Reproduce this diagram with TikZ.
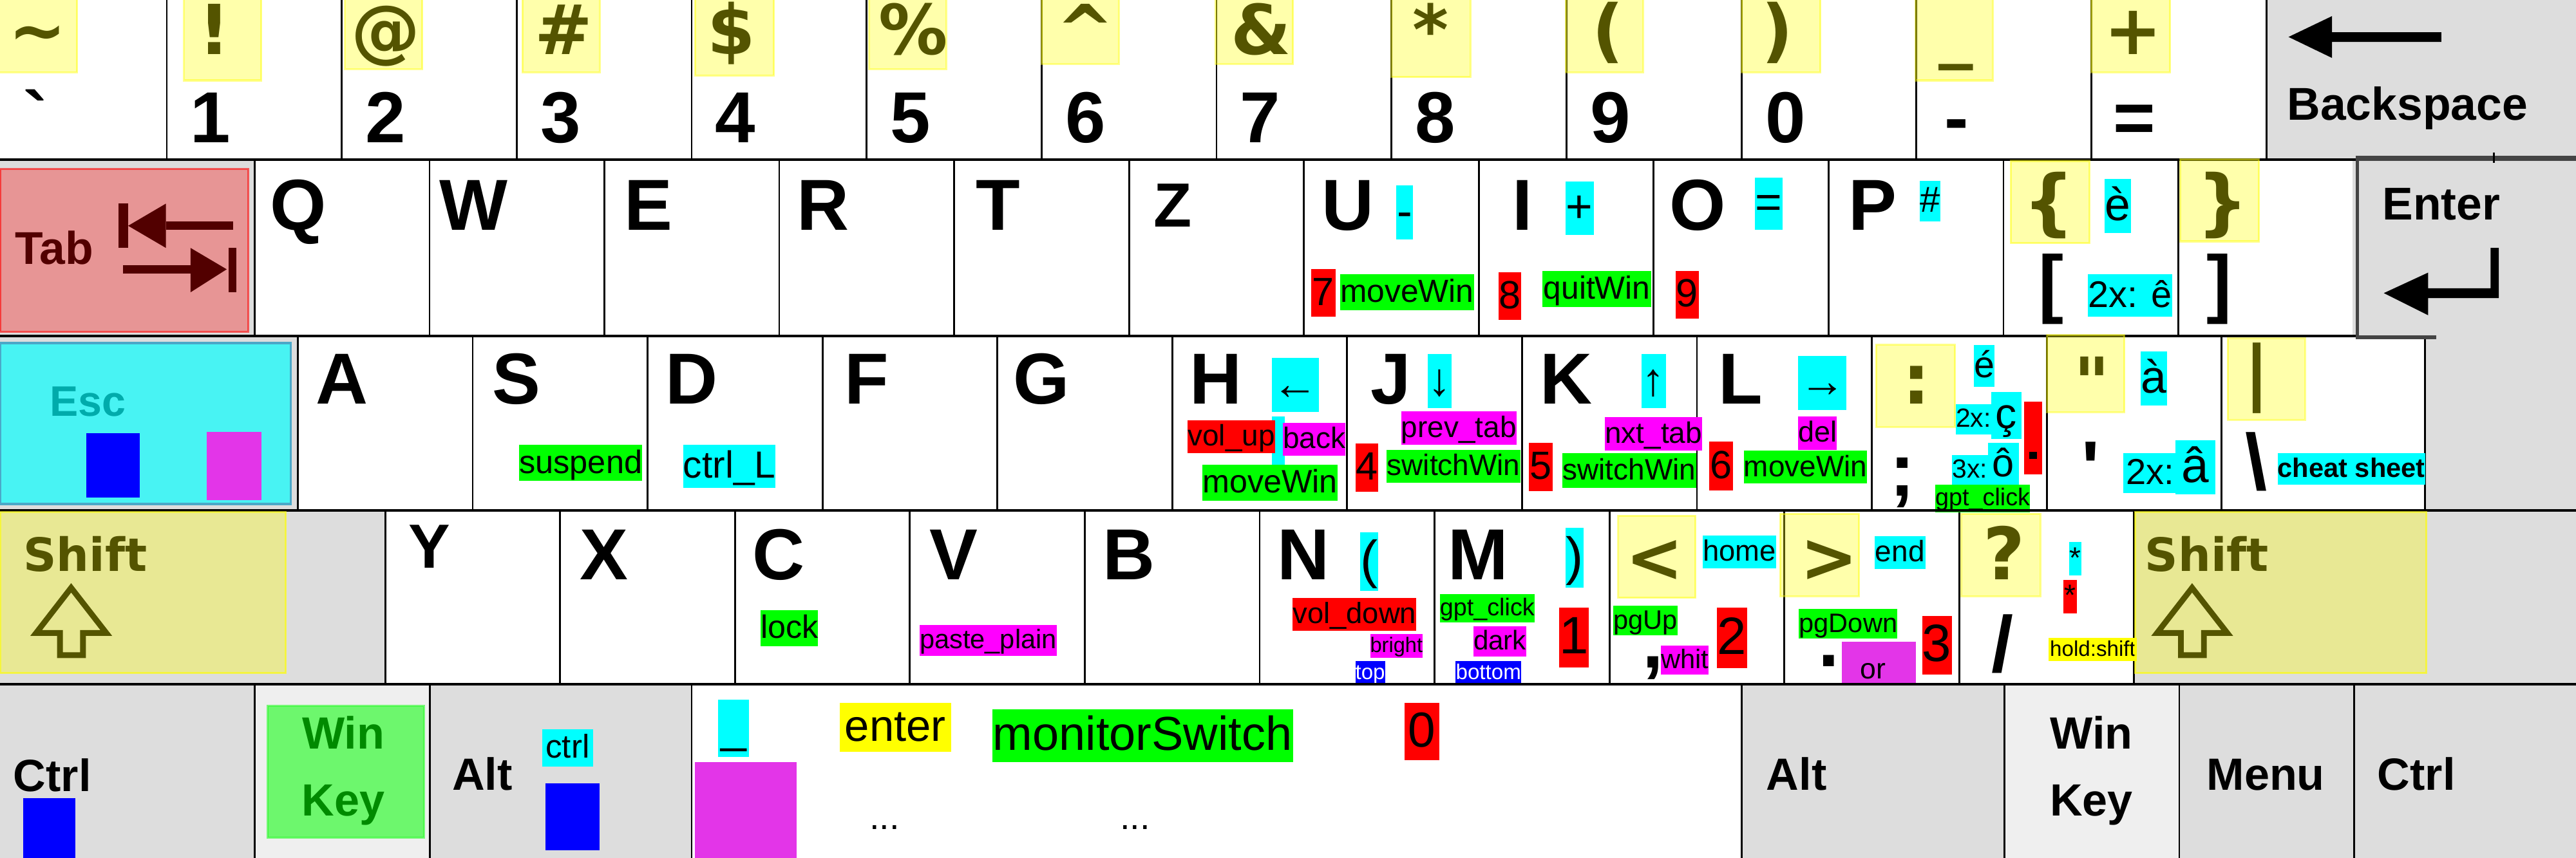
\documentclass[tikz,border=0pt]{standalone}
\usepackage{fontspec}
\setmainfont{Liberation Sans}
\newfontfamily\dvs{DejaVu Sans}
\definecolor{kgrey}{HTML}{DDDDDD}
\definecolor{klight}{HTML}{EFEFEF}
\definecolor{mag2}{HTML}{E335E8}
\definecolor{edgegrey}{HTML}{444444}
\definecolor{escedge}{HTML}{4AA8C8}
\definecolor{cy}{RGB}{0,255,255}
\definecolor{mg}{RGB}{255,0,255}
\definecolor{yl}{RGB}{255,255,0}
\definecolor{gr}{RGB}{0,255,0}
\definecolor{rd}{RGB}{255,0,0}
\definecolor{bl}{RGB}{0,0,255}
\newcommand\sst{\vrule width0pt height.86em depth.24em\relax}
\newcommand\fsz[1]{\fontsize{#1}{#1}\selectfont}
\tikzset{
  keyl/.style={anchor=base,inner sep=0pt,font=\bfseries\fsz{44}},
  keyz/.style={anchor=base,inner sep=0pt,font=\bfseries\fsz{38}},
  sym/.style={anchor=base,inner sep=0pt,font=\dvs\bfseries\fsz{42}},
  punct/.style={anchor=base,inner sep=0pt,font=\bfseries\fsz{46}},
  kname/.style={anchor=base west,inner sep=0pt,font=\bfseries\fsz{27.5}},
  knamec/.style={anchor=base,inner sep=0pt,font=\bfseries\fsz{27.5}},
  lab/.style={inner sep=0pt,anchor=center},
  rowline/.style={line width=1.7pt},
  keyline/.style={line width=1.1pt},
}
\newcommand\KL[4]{\node[keyl] (#1) at (#2,#3) {#4};}
\newcommand\SY[4]{\node[sym] (#1) at (#2,#3) {#4};}
\newcommand\PU[4]{\node[punct] (#1) at (#2,#3) {#4};}
\newcommand\LB[8]{\node[lab,fill=#2,minimum width={(#5-#3)*1pt},minimum height={(#6-#4)*1pt},font=\fsz{#7}] (#1) at ({(#3+#5)/2},{(#4+#6)/2}) {\sst #8};}
\newcommand\YB[4]{\fill[yl,fill opacity=.33] (#1,#2) rectangle (#3,#4);
  \draw[yl,draw opacity=.45,line width=1.2pt] (#1,#2) rectangle (#3,#4);}
\begin{document}
\begin{tikzpicture}[x=1pt,y=-1pt]
\useasboundingbox (0,0) rectangle (1568,522.5);
\clip (0,0) rectangle (1568,522.5);
\fill[white] (0,0) rectangle (1568,522.5);
% ---------- key backgrounds
\fill[kgrey] (1379.5,0) rectangle (1568,97.3);
\fill[kgrey] (0,97.3) rectangle (155,204.6);
\fill[kgrey] (1432,95) rectangle (1568,204.6);
\fill[kgrey] (0,204.6) rectangle (181.3,310.8);
\fill[kgrey] (1476,204.6) rectangle (1568,310.8);
\fill[kgrey] (0,310.8) rectangle (234.5,416.7);
\fill[kgrey] (1299,310.8) rectangle (1568,416.7);
\fill[kgrey] (0,416.7) rectangle (155,522.5);
\fill[klight] (155,416.7) rectangle (261.5,522.5);
\fill[kgrey] (261.5,416.7) rectangle (421,522.5);
\fill[kgrey] (1060,416.7) rectangle (1220,522.5);
\fill[klight] (1220,416.7) rectangle (1326.5,522.5);
\fill[kgrey] (1326.5,416.7) rectangle (1568,522.5);
% ---------- key separators
\foreach \i in {0,...,12} \draw[keyline] ({101.5+106.5*\i},0) -- ++(0,97.3);
\foreach \i in {0,...,11} \draw[keyline] ({155+106.45*\i},97.3) -- ++(0,107.3);
\foreach \i in {0,...,11} \draw[keyline] ({181.3+106.45*\i},204.6) -- ++(0,106.2);
\draw[keyline] (1476,206) -- (1476,310.8);
\foreach \i in {0,...,10} \draw[keyline] ({234.5+106.45*\i},310.8) -- ++(0,105.9);
\foreach \x in {155,261.5,421,1060,1220,1326.5,1433} \draw[keyline] (\x,416.7) -- ++(0,106);
% ---------- row 0
\KL{kgrave}{21.7}{87}{\textasciigrave}
\KL{k1}{128.2}{87}{1}
\KL{k2}{234.7}{87}{2}
\KL{k3}{341.2}{87}{3}
\KL{k4}{447.7}{87}{4}
\KL{k5}{554.2}{87}{5}
\KL{k6}{660.7}{87}{6}
\KL{k7}{767.2}{87}{7}
\KL{k8}{873.7}{87}{8}
\KL{k9}{980.2}{87}{9}
\KL{k0}{1086.7}{87}{0}
\KL{kminus}{1191}{87}{-}
\KL{keq}{1299}{87}{=}
\SY{stilde}{23}{33}{\textasciitilde}
\SY{sexcl}{130.6}{33}{!}
\SY{sat}{234.8}{33}{@}
\SY{shash}{343}{33}{\#}
\SY{sdollar}{445.4}{33}{\$}
\SY{spercent}{556}{33}{\%}
\SY{scaret}{660.7}{33}{\textasciicircum}
\SY{samp}{767.8}{33}{\&}
\SY{sstar}{871}{33}{*}
\SY{slpar}{979}{33}{(}
\SY{srpar}{1082}{33}{)}
\SY{sunder}{1190.7}{33}{\_}
\SY{splus}{1298.5}{33}{+}
\node[anchor=base west,inner sep=0pt,font=\bfseries\fsz{28}] (bs) at (1392,73) {Backspace};
\fill (1393,22.5) -- (1419.5,9.8) -- (1419.5,19.6) -- (1486,19.6) -- (1486,25.5) -- (1419.5,25.5) -- (1419.5,35.3) -- cycle;
% ---------- row 1
\node[anchor=base west,inner sep=0pt,font=\bfseries\fsz{28}] (tab) at (9,161) {Tab};
\fill (72,124) rectangle (78,151);
\fill (78,137.5) -- (101,124) -- (101,151) -- cycle;
\fill (101,135) rectangle (142,140);
\fill (75,161.5) rectangle (116,166.5);
\fill (116,151) -- (138,164) -- (116,178) -- cycle;
\fill (139,151) rectangle (144,178);
\KL{kq}{181.7}{140}{Q}
\KL{kw}{288.15}{140}{W}
\KL{ke}{394.6}{140}{E}
\KL{kr}{501.05}{140}{R}
\KL{kt}{607.5}{140}{T}
\node[keyz] (kz) at (713.95,138) {Z};
\KL{ku}{820.4}{140}{U}
\KL{ki}{926.85}{140}{I}
\KL{ko}{1033.3}{140}{O}
\KL{kp}{1139.75}{140}{P}
\node[sym,font=\dvs\bfseries\fsz{44}] (slbrace) at (1247,138) {\{};
\node[sym,font=\dvs\bfseries\fsz{44}] (srbrace) at (1353,138) {\}};
\PU{klbrack}{1248.5}{188}{[}
\PU{krbrack}{1351}{188}{]}
\LB{uminus}{cy}{850}{113}{860}{146}{28}{-}
\LB{r7}{rd}{798}{164}{813}{193}{24}{7}
\LB{gu}{gr}{816}{167}{897}{189}{19.5}{moveWin}
\LB{iplus}{cy}{953}{110.5}{970}{143}{28}{+}
\LB{r8}{rd}{912}{166}{926}{195}{24}{8}
\LB{gi}{gr}{939}{165}{1005}{187}{19.5}{quitWin}
\LB{r9}{rd}{1020}{165}{1034}{194}{24}{9}
\LB{oeq}{cy}{1068}{108}{1085}{140}{28}{=}
\LB{phash}{cy}{1168.5}{110}{1181}{135}{22}{\#}
\LB{egrave}{cy}{1281}{109}{1297}{142}{28}{è}
\LB{ecirc}{cy}{1272}{167}{1321}{193}{22.6}{2x: ê}
\node[anchor=base west,inner sep=0pt,font=\bfseries\fsz{28}] (enter) at (1450,134) {Enter};
\fill (1451,178.5) -- (1478,166) -- (1478,175.6) -- (1516,175.6) -- (1516,151) -- (1521,151) -- (1521,181.5) -- (1478,181.5) -- (1478,192) -- cycle;
% ---------- row 2
\node[anchor=base west,inner sep=0pt,font=\bfseries\fsz{26}] (esc) at (30,253.6) {Esc};
\KL{ka}{208}{246}{A}
\KL{ks}{314.45}{246}{S}
\KL{kd}{420.9}{246}{D}
\KL{kf}{527.35}{246}{F}
\KL{kg}{633.8}{246}{G}
\KL{kh}{740.25}{246}{H}
\KL{kj}{846.7}{246}{J}
\KL{kk}{953.15}{246}{K}
\KL{kl}{1059.6}{246}{L}
\SY{scolon}{1166.5}{246}{:}
\SY{squot}{1273.5}{248}{"}
\node[sym,font=\dvs\bfseries\fsz{43}] (sbar) at (1373.6,241.7) {|};
\PU{ksemi}{1158}{302}{;}
\PU{kapos}{1272.5}{301}{\textquotesingle}
\node[punct,font=\bfseries\fsz{48}] (kbslash) at (1373.5,298) {\textbackslash};
\LB{suspend}{gr}{316}{271}{391}{293}{19.8}{suspend}
\LB{ctrlL}{cy}{416}{271}{472}{297}{23}{ctrl\_L}
\fill[cy] (774,253.6) rectangle (782,283);
\LB{hl}{cy}{774}{218}{803}{251}{28}{←}
\LB{volup}{rd}{723}{256}{776}{276}{18}{vol\_up}
\LB{back}{mg}{781}{257.5}{819}{277.5}{18}{back}
\LB{gh}{gr}{732}{283}{814}{305}{19.7}{moveWin}
\LB{jd}{cy}{869}{215.6}{883.5}{248.5}{28}{↓}
\LB{prevtab}{mg}{853}{250.5}{923}{271}{18}{prev\_tab}
\LB{r4}{rd}{825}{270}{839}{299.5}{24}{4}
\LB{gj}{gr}{844}{274}{925.5}{294}{18}{switchWin}
\LB{ku}{cy}{999}{215.6}{1014}{248.5}{28}{↑}
\LB{nxttab}{mg}{977}{254}{1036}{274.5}{18}{nxt\_tab}
\LB{r5}{rd}{930.6}{269.6}{945}{299}{24}{5}
\LB{gk}{gr}{951}{276}{1032.5}{297}{18}{switchWin}
\LB{lr}{cy}{1094.5}{216.7}{1124}{249.6}{28}{→}
\LB{del}{mg}{1094.5}{253.6}{1118}{274}{17.6}{del}
\LB{r6}{rd}{1040.5}{269}{1055}{298.7}{24}{6}
\LB{gl}{gr}{1061.5}{274.5}{1136.5}{294.5}{18}{moveWin}
\LB{eacute}{cy}{1201.5}{210}{1214}{235.6}{22.5}{é}
\LB{twox}{cy}{1190.5}{246}{1212}{264.6}{16}{2x:}
\LB{ccedil}{cy}{1212}{240}{1230.5}{266}{26}{ç}
\LB{rsemi}{rd}{1232}{244.6}{1243}{289}{20}{}
\fill (1235,275) rectangle (1240,279.5);
\LB{threex}{cy}{1188}{277}{1210}{295}{16}{3x:}
\LB{ocirc}{cy}{1210}{271}{1229}{295}{24}{ô}
\LB{gsemi}{gr}{1178}{295}{1235.6}{312}{14.8}{gpt\_click}
\LB{agrave}{cy}{1303}{214}{1319}{247}{28}{à}
\LB{twoxa}{cy}{1292.5}{277}{1325}{299}{22}{2x:}
\LB{acirc}{cy}{1324}{268}{1348.5}{301}{30}{â}
\LB{cheat}{cy}{1386.5}{276}{1476}{295}{16.3}{\bfseries cheat sheet}
% ---------- row 3
\node[anchor=base west,inner sep=0pt,font=\dvs\bfseries\fsz{28}] (lshift) at (14,348) {Shift};
\draw[line width=3.5pt] (43.3,358) -- (64.7,385.5) -- (50.5,385.5) -- (50.5,399) -- (36.5,399) -- (36.5,385.5) -- (22,385.5) -- cycle;
\node[anchor=base west,inner sep=0pt,font=\dvs\bfseries\fsz{28}] (rshift) at (1305.5,348) {Shift};
\draw[line width=3.5pt] (1334.3,358) -- (1355.7,385.5) -- (1341.5,385.5) -- (1341.5,399) -- (1327.5,399) -- (1327.5,385.5) -- (1313,385.5) -- cycle;
\node[keyz] (ky) at (261.2,346) {Y};
\KL{kx}{367.65}{353}{X}
\KL{kc}{474.1}{353}{C}
\KL{kv}{580.55}{353}{V}
\KL{kb}{687}{353}{B}
\KL{kn}{793.45}{353}{N}
\KL{km}{899.9}{353}{M}
\SY{sless}{1007}{354}{<}
\SY{sgreater}{1113.5}{354}{>}
\node[sym,font=\dvs\bfseries\fsz{44}] (squest) at (1220,353) {?};
\PU{kcomma}{1006}{406.5}{,}
\PU{kdot}{1113}{406}{.}
\node[punct,font=\bfseries\fsz{48}] (kslash) at (1219,409) {/};
\LB{lock}{gr}{463}{371.6}{498}{393.6}{19.7}{lock}
\LB{paste}{mg}{560}{380.6}{643}{399.5}{16.3}{paste\_plain}
\LB{nparen}{cy}{828}{324}{839}{360}{32}{(}
\LB{voldown}{rd}{787}{364}{862}{384}{17.8}{vol\_down}
\LB{bright}{mg}{834}{386}{866}{400.6}{12.8}{bright}
\LB{top}{bl}{825}{402.6}{843}{417}{13}{\color{white}top}
\LB{gm}{gr}{876.5}{362}{934}{379}{14.8}{gpt\_click}
\LB{dark}{mg}{897}{381.5}{929}{400}{16.5}{dark}
\LB{bottom}{bl}{886}{402.6}{926}{417}{13}{\color{white}bottom}
\LB{mparen}{cy}{953}{321.5}{964}{358}{32}{)}
\LB{r1}{rd}{949}{370}{967}{406.5}{32}{1}
\LB{home}{cy}{1036.5}{326}{1081}{346}{17.8}{home}
\LB{pgup}{gr}{982}{369}{1021}{387}{16.3}{pgUp}
\LB{whit}{mg}{1011}{393}{1040}{411}{16.3}{whit}
\LB{r2}{rd}{1045}{370}{1063.5}{407}{32}{2}
\LB{end}{cy}{1141}{326.5}{1172}{346.5}{18}{end}
\LB{pgdown}{gr}{1095}{371}{1155}{389}{16.3}{pgDown}
\node[lab,fill=mag2,minimum width=45pt,minimum height=26pt] (orbox) at (1143.5,404) {};
\node[anchor=base,inner sep=0pt,font=\fsz{17.5}] (ortext) at (1140,413.5) {or};
\LB{r3}{rd}{1170}{375}{1188}{411}{32}{3}
\LB{qcy}{cy}{1259.5}{330}{1267}{350.5}{18}{*}
\LB{qred}{rd}{1256}{353}{1264}{373.5}{18}{*}
\LB{hold}{yl}{1247}{388.5}{1300.6}{402.6}{13}{hold:shift}
% ---------- row 4
\node[kname] (lctrl) at (8,482) {Ctrl};
\node[knamec] (lwin1) at (209,456) {Win};
\node[knamec] (lwin2) at (209,497) {Key};
\node[kname] (lalt) at (275,481) {Alt};
\LB{altctrl}{cy}{330}{444}{361}{467}{20}{ctrl}
\LB{spund}{cy}{437}{426}{456}{461}{28}{\_}
\LB{spenter}{yl}{511}{428}{579}{458}{27}{enter}
\LB{spmon}{gr}{604}{432}{787}{464}{29}{monitorSwitch}
\LB{sp0}{rd}{855}{428}{876}{463}{30}{0}
\node[anchor=base,inner sep=0pt,font=\fsz{22}] (dots1) at (538.5,505) {...};
\node[anchor=base,inner sep=0pt,font=\fsz{22}] (dots2) at (691,505) {...};
\node[kname] (ralt) at (1075,481) {Alt};
\node[knamec] (rwin1) at (1273,456) {Win};
\node[knamec] (rwin2) at (1273,497) {Key};
\node[kname] (menu) at (1343,481) {Menu};
\node[kname] (rctrl) at (1447,481) {Ctrl};
% ---------- row lines
\draw[rowline] (0,97.3) -- (1434,97.3);
\draw[rowline] (0,204.6) -- (1434,204.6);
\draw[rowline] (0,310.8) -- (1568,310.8);
\draw[rowline] (0,416.7) -- (1568,416.7);
\draw[edgegrey,line width=3pt] (1434,96.5) -- (1568,96.5);
\draw[edgegrey,line width=2pt] (1435,97) -- (1435,206);
\draw[edgegrey,line width=2.5pt] (1434,205.5) -- (1483,205.5);
\draw[line width=.8pt] (1518,93) -- (1518,99);
% ---------- overlays
\fill[rd,fill opacity=.32] (0,103) rectangle (151,202);
\draw[rd,draw opacity=.6,line width=1.2pt] (0,103) rectangle (151,202);
\fill[cy,fill opacity=.67] (0,209) rectangle (177,307);
\draw[escedge,line width=1.5pt] (0,209) rectangle (177,307);
\fill[bl] (52.5,264) rectangle (85,303);
\fill[mag2] (126,263) rectangle (159,304.6);
\fill[gr,fill opacity=.54] (163,430) rectangle (258,510);
\draw[gr,draw opacity=.5,line width=1.2pt] (163,430) rectangle (258,510);
\fill[bl] (14,486) rectangle (46,523);
\fill[bl] (332,477) rectangle (365,518);
\fill[mag2] (423,464) rectangle (485,523);
\fill[yl,fill opacity=.33] (0,312) rectangle (174,410);
\draw[yl,draw opacity=.6,line width=1.2pt] (0,312) rectangle (174,410);
\fill[yl,fill opacity=.33] (1299.5,312) rectangle (1477,410);
\draw[yl,draw opacity=.6,line width=1.2pt] (1299.5,312) rectangle (1477,410);
\YB{-2}{-2}{47}{44}
\YB{112}{-2}{159}{49}
\YB{210}{-2}{257}{42}
\YB{318}{-2}{365}{44}
\YB{423}{-2}{471}{46}
\YB{529}{-2}{576}{42}
\YB{634}{-2}{681}{39}
\YB{740}{-2}{787}{39}
\YB{847}{-2}{895}{47}
\YB{953}{-2}{1000}{44}
\YB{1060}{-2}{1108}{44}
\YB{1166}{-2}{1213}{49}
\YB{1273}{-2}{1321}{44}
\YB{1224}{98}{1272}{148}
\YB{1327}{97}{1375}{147}
\YB{1142}{210}{1190}{260}
\YB{1246}{204}{1293}{251}
\YB{1356}{206}{1403}{255.6}
\YB{985}{314}{1032}{364}
\YB{1083.6}{313}{1131.6}{363}
\YB{1194}{313}{1242}{363}
\end{tikzpicture}
\end{document}
